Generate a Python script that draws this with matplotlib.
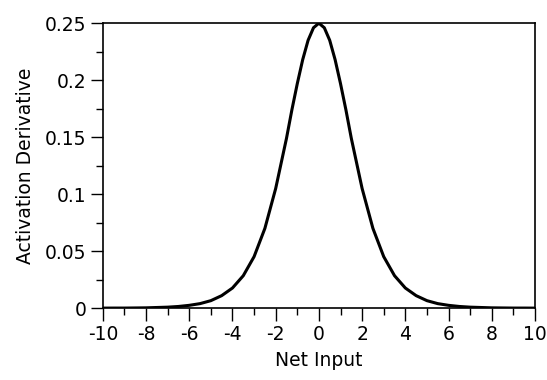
import matplotlib.pyplot as plt

# values
net_input = [-10, -9.5, -9, -8.5, -8, -7.5, -7, -6.5, -6, -5.5, -5, -4.5, -4, -3.5, -3,
             -2.5, -2, -1.75, -1.5, -1.25, -1, -0.75, -0.5, -0.25, 0, 0.25, 0.5, 0.75,
             1, 1.25, 1.5, 1.75, 2, 2.5, 3, 3.5, 4, 4.5, 5,
             5.5, 6, 6.5, 7, 7.5, 8, 8.5, 9, 9.5, 10]
activation_deriv = [0.00005, 0.0001, 0.0001, 0.0002, 0.0003, 0.0006, 0.0009, 0.0015,
                    0.0025, 0.004, 0.0066, 0.011, 0.0177, 0.0285, 0.0452, 0.070, 0.105,
                    0.127, 0.149, 0.174, 0.197, 0.218, 0.235, 0.246, 0.25, 0.246, 0.235,
                    0.218, 0.197, 0.174, 0.149, 0.127, 0.105, 0.070,
                    0.0452, 0.0285, 0.0177, 0.011, 0.0066, 0.004, 0.0025, 0.0015,
                    0.0009, 0.0006, 0.0003, 0.0002, 0.0001, 0.0001, 0.00005]

xticks = [-10, -8, -6, -4, -2, 0, 2, 4, 6, 8, 10]
yticks = [0, 0.05, 0.1, 0.15, 0.2, 0.25]
ylabels = ['0', '0.05', '0.1', '0.15', '0.2', '0.25']

plt.rcParams['font.family'] = ['DejaVu Sans']

fig = plt.figure(figsize=(5.47, 3.80), dpi=100)
ax = fig.add_axes([0.188, 0.189, 0.79, 0.75])
ax.plot(net_input, activation_deriv, color='black', linewidth=2.2)

ax.set_xlim(-10, 10)
ax.set_ylim(0, 0.25)
ax.set_xticks(xticks)
ax.set_xticklabels([str(v) for v in xticks])
ax.set_xticks(range(-9, 10, 2), minor=True)
ax.set_yticks(yticks)
ax.set_yticklabels(ylabels)
ax.set_yticks([0.025, 0.075, 0.125, 0.175, 0.225], minor=True)
ax.tick_params(which='major', direction='out', length=9, width=1, labelsize=13.5, color='black', pad=3)
ax.tick_params(which='minor', direction='out', length=5, width=1)
for s in ax.spines.values():
    s.set_linewidth(1.2)

ax.set_xlabel('Net Input', fontsize=13.5, labelpad=5)
ax.set_ylabel('Activation Derivative', fontsize=13.5, labelpad=7)

fig.savefig('out.png', dpi=100)
